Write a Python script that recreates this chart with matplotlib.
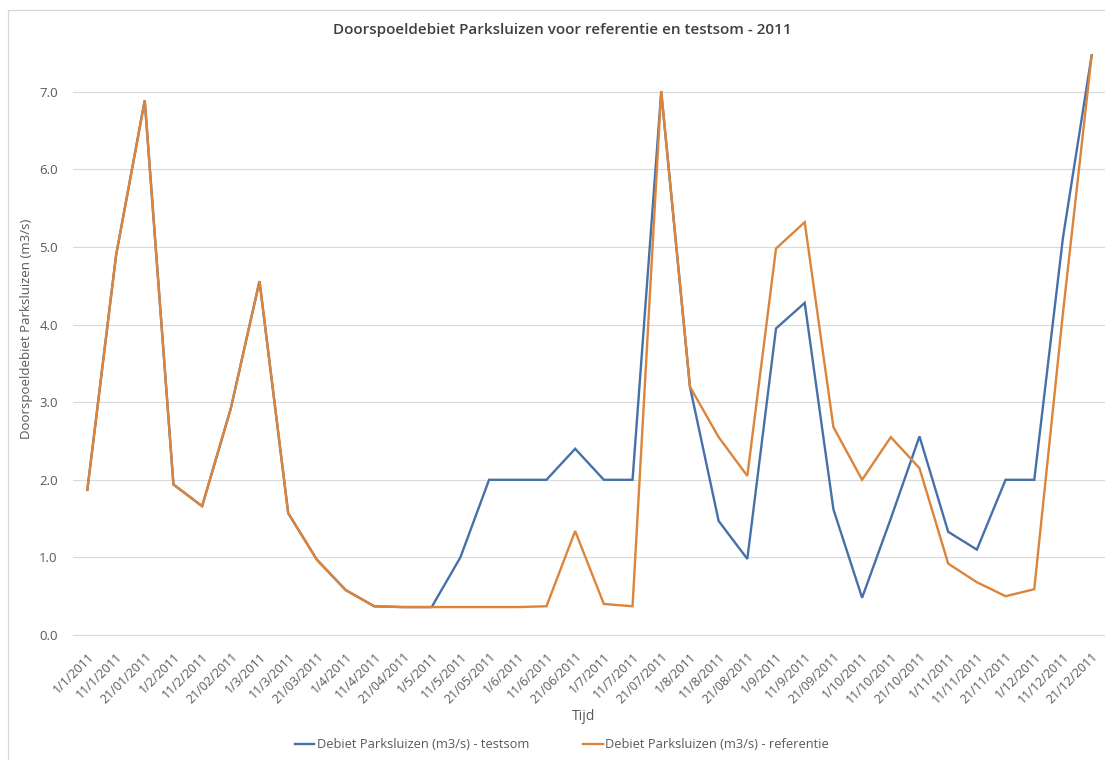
import matplotlib
matplotlib.use("Agg")
import matplotlib.pyplot as plt
from matplotlib.patches import Rectangle

dates = [
    "1/1/2011", "11/1/2011", "21/01/2011", "1/2/2011", "11/2/2011", "21/02/2011",
    "1/3/2011", "11/3/2011", "21/03/2011", "1/4/2011", "11/4/2011", "21/04/2011",
    "1/5/2011", "11/5/2011", "21/05/2011", "1/6/2011", "11/6/2011", "21/06/2011",
    "1/7/2011", "11/7/2011", "21/07/2011", "1/8/2011", "11/8/2011", "21/08/2011",
    "1/9/2011", "11/9/2011", "21/09/2011", "1/10/2011", "11/10/2011", "21/10/2011",
    "1/11/2011", "11/11/2011", "21/11/2011", "1/12/2011", "11/12/2011", "21/12/2011",
]

testsom = [
    1.87, 4.89, 6.89, 1.94, 1.66, 2.92,
    4.56, 1.57, 0.97, 0.58, 0.37, 0.36,
    0.36, 1.00, 2.00, 2.00, 2.00, 2.40,
    2.00, 2.00, 7.00, 3.20, 1.47, 0.98,
    3.95, 4.28, 1.62, 0.48, 1.50, 2.56,
    1.33, 1.10, 2.00, 2.00, 5.12, 7.47,
]

referentie = [
    1.87, 4.89, 6.89, 1.94, 1.66, 2.92,
    4.56, 1.57, 0.97, 0.58, 0.37, 0.36,
    0.36, 0.36, 0.36, 0.36, 0.37, 1.34,
    0.40, 0.37, 7.01, 3.20, 2.55, 2.05,
    4.98, 5.32, 2.68, 2.00, 2.55, 2.15,
    0.92, 0.68, 0.50, 0.59, 4.15, 7.47,
]

y_ticks = [0, 1, 2, 3, 4, 5, 6, 7]

BLUE = "#4670AA"
ORANGE = "#DC843A"
TEXT = "#595959"
FONT = "Open Sans"

plt.rcParams["font.family"] = [FONT, "DejaVu Sans"]

W, H = 1105, 760
fig = plt.figure(figsize=(W / 100, H / 100), dpi=100)
fig.patch.set_facecolor("white")

# chart area border
fig.patches.append(Rectangle((8 / W, -0.02), 1.05, 1 - 10 / H + 0.02,
                             transform=fig.transFigure, fill=False,
                             edgecolor="#D9D9D9", linewidth=0.9))

ax = fig.add_axes([73 / W, 1 - 635 / H, (1106 - 73) / W, (635 - 53) / H])

x = list(range(len(dates)))
ax.plot(x, testsom, color=BLUE, linewidth=1.7, solid_joinstyle="miter",
        label="Debiet Parksluizen (m3/s) - testsom", zorder=3)
ax.plot(x, referentie, color=ORANGE, linewidth=1.7, solid_joinstyle="miter",
        label="Debiet Parksluizen (m3/s) - referentie", zorder=4)

ax.set_xlim(-0.5, len(dates) - 0.5)
ax.set_ylim(0, 7.5)
ax.set_yticks(y_ticks)
ax.set_yticklabels([f"{v:.1f}" for v in y_ticks], fontsize=9.5, color=TEXT)
ax.set_xticks(x)
ax.set_xticklabels(dates, rotation=45, ha="right", rotation_mode="anchor",
                   fontsize=9, color=TEXT)
ax.tick_params(axis="x", length=0, pad=11)
ax.tick_params(axis="y", length=0, pad=11)

ax.grid(axis="y", color="#D9D9D9", linewidth=0.8)
ax.set_axisbelow(True)
for side in ("top", "right", "left"):
    ax.spines[side].set_visible(False)
ax.spines["bottom"].set_color("#D9D9D9")
ax.spines["bottom"].set_linewidth(0.8)

# axis titles
fig.text(27 / W, 1 - 329 / H, "Doorspoeldebiet Parksluizen (m3/s)",
         rotation=90, ha="center", va="center", fontsize=9.5, color=TEXT)
fig.text(584 / W, 1 - 716 / H, "Tijd", ha="center", va="center",
         fontsize=10, color=TEXT)

fig.text(562 / W, 1 - 30 / H,
         "Doorspoeldebiet Parksluizen voor referentie en testsom - 2011",
         ha="center", va="center", fontsize=11, fontweight="semibold",
         color="#404040")

fig.legend(loc="center", bbox_to_anchor=(562 / W, 1 - 745 / H), ncol=2,
           frameon=False, fontsize=9.3, labelcolor=TEXT, handlelength=1.5,
           handletextpad=0.2, columnspacing=4.2)

fig.savefig("out.png", dpi=100, facecolor="white")
